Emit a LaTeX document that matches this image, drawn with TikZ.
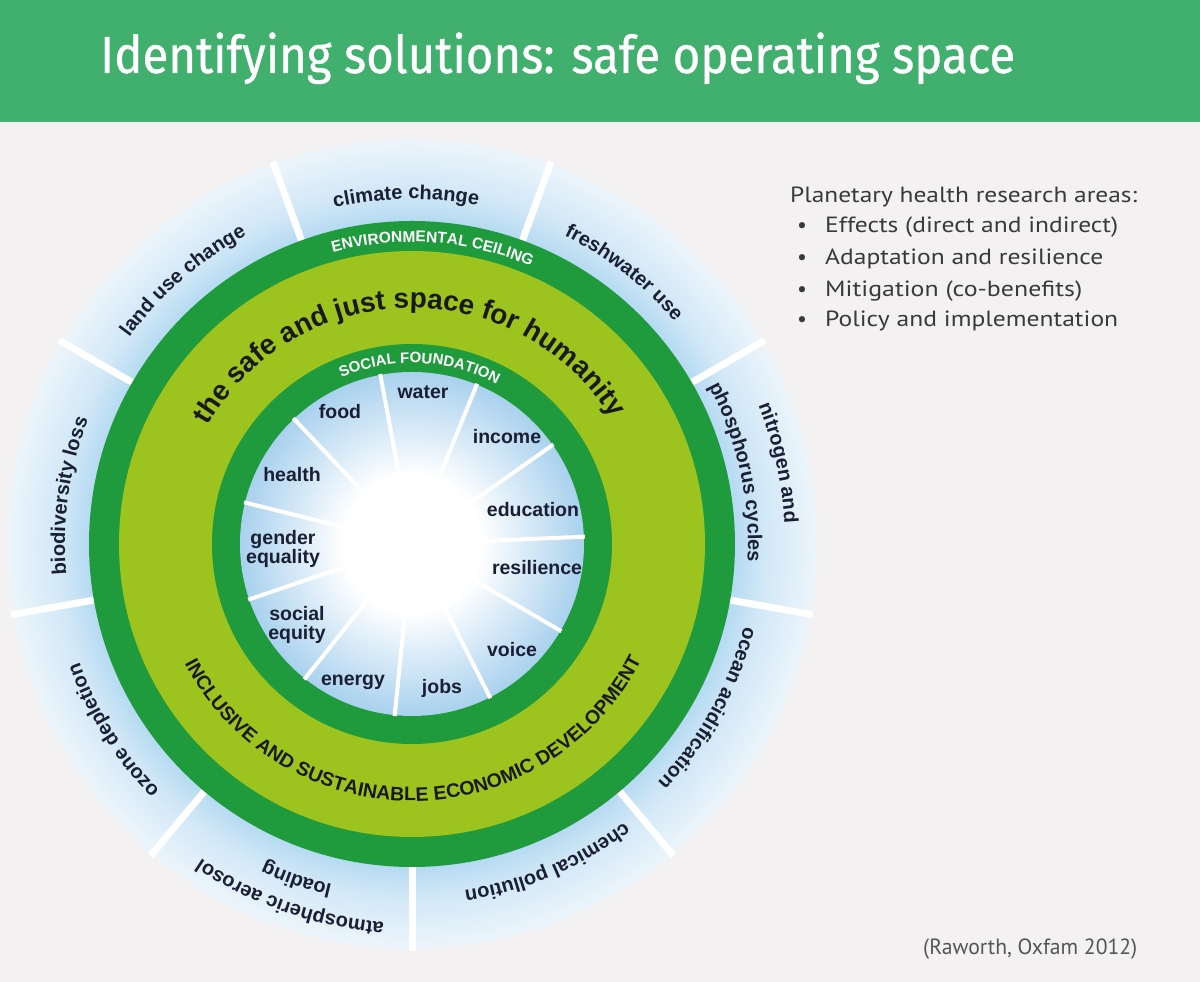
\documentclass[tikz,border=0pt]{standalone}
\usepackage{fontspec}
\usepackage{graphicx}
\usetikzlibrary{decorations.text}
\newfontfamily\labfont{Liberation Sans}
\newfontfamily\titlefont{Fira Sans}[FakeBold=0.7]
\newfontfamily\sidefont{PT Sans}
\definecolor{bgc}{HTML}{F3F1F2}
\definecolor{titlegreen}{HTML}{41AF6D}
\definecolor{darkgreen}{HTML}{1F9A3D}
\definecolor{lightgreen}{HTML}{9DC31F}
\definecolor{segblue}{HTML}{B5DAF2}
\definecolor{segmid}{HTML}{D2E8F7}
\definecolor{segpale}{HTML}{EDF5FB}
\definecolor{innerblue}{HTML}{A9D1EE}
\definecolor{navy}{HTML}{1A1F33}
\definecolor{sidegray}{HTML}{3A3A3A}
\definecolor{srcgray}{HTML}{555555}
\pgfdeclareradialshading{segshade}{\pgfpointorigin}{color(0bp)=(segblue); color(19.9bp)=(segblue); color(21.8bp)=(segmid); color(25bp)=(segpale); color(50bp)=(segpale)}
\pgfdeclareradialshading{innershade}{\pgfpointorigin}{color(0bp)=(white); color(10bp)=(white); color(25bp)=(innerblue); color(50bp)=(innerblue)}
% clockwise arc text: center angle, radius, half span, format, text
\newcommand\cwtext[5]{\path[decorate, decoration={text along path, text align=center, text={|#4|#5}}] ({#1+#3}:#2) arc[start angle={#1+#3}, end angle={#1-#3}, radius=#2];}
\newcommand\ccwtext[5]{\path[decorate, decoration={text along path, text align=center, text={|#4|#5}}] ({#1-#3}:#2) arc[start angle={#1-#3}, end angle={#1+#3}, radius=#2];}
\newcommand\outf{\labfont\bfseries\fontsize{20}{20}\selectfont\color{navy}}
\begin{document}
\begin{tikzpicture}[x=1pt,y=1pt,
  side/.style={inner sep=0, text=sidegray, font=\sidefont\fontsize{22}{22}\selectfont},
  inlab/.style={inner sep=0, text=navy, align=center, font=\labfont\bfseries\fontsize{19.5}{19}\selectfont},
  gapline/.style={white, line width=7pt},
  spoke/.style={white, line width=4pt}]
\useasboundingbox (0,0) rectangle (1200,982);
\fill[bgc] (0,0) rectangle (1200,982);
\fill[titlegreen] (0,860) rectangle (1200,982);
\node[anchor=base west, text=white, inner sep=0] (title) at (100,909)
  {\resizebox{915pt}{\height}{\titlefont\fontsize{52}{52}\selectfont Identifying solutions: safe operating space}};
% side panel
\node[side, anchor=base west] (head) at (790,779) {\resizebox{347pt}{\height}{Planetary health research areas:}};
\node[side, anchor=base] (b1) at (802,749) {•};
\node[side, anchor=base west] (i1) at (825,749) {\resizebox{293pt}{\height}{Effects (direct and indirect)}};
\node[side, anchor=base] (b2) at (802,717) {•};
\node[side, anchor=base west] (i2) at (825,717) {\resizebox{278pt}{\height}{Adaptation and resilience}};
\node[side, anchor=base] (b3) at (802,685) {•};
\node[side, anchor=base west] (i3) at (825,685) {\resizebox{257pt}{\height}{Mitigation (co-benefits)}};
\node[side, anchor=base] (b4) at (802,655) {•};
\node[side, anchor=base west] (i4) at (825,655) {\resizebox{293pt}{\height}{Policy and implementation}};
\node[side, anchor=base west, text=srcgray] (src) at (923,27) {\resizebox{214pt}{\height}{(Raworth, Oxfam 2012)}};
% doughnut
\begin{scope}[shift={(412,438)}]
  \shade[shading=segshade] (0,0) circle[radius=405];
  \foreach \a in {70,30,-10,-50,-90,-130,-170,150,110}
    \draw[gapline] (\a:318) -- (\a:407);
  \fill[darkgreen] (0,0) circle[radius=323];
  \fill[lightgreen] (0,0) circle[radius=293];
  \fill[darkgreen] (0,0) circle[radius=200];
  \shade[shading=innershade] (0,0) circle[radius=172];
  \foreach \k in {0,...,10}
    \draw[spoke] ({100.6-\k*32.727}:60) -- ({100.6-\k*32.727}:173);
  % outer labels
  \cwtext{91}{345}{40}{\outf}{climate change}
  \cwtext{52}{344}{40}{\outf}{freshwater use}
  \cwtext{12.5}{373}{40}{\outf}{nitrogen and}
  \cwtext{12.5}{336}{40}{\outf}{phosphorus cycles}
  \cwtext{-29}{342}{40}{\outf}{ocean acidification}
  \cwtext{-67}{350}{40}{\outf}{chemical pollution}
  \cwtext{-109}{379}{40}{\outf}{atmospheric aerosol}
  \cwtext{-109}{350}{40}{\outf}{loading}
  \cwtext{-148}{353}{40}{\outf}{ozone depletion}
  \cwtext{172}{347}{40}{\outf}{biodiversity loss}
  \cwtext{131}{350}{40}{\outf}{land use change}
  % ring texts
  \cwtext{86}{302}{50}{\labfont\bfseries\fontsize{15.5}{15.5}\selectfont\color{white}}{ENVIRONMENTAL CEILING}
  \cwtext{87.5}{181}{60}{\labfont\bfseries\fontsize{15}{15}\selectfont\color{white}}{SOCIAL FOUNDATION}
  \cwtext{91}{236}{80}{\labfont\bfseries\fontsize{28}{28}\selectfont\color{black!90}}{the safe and just space for humanity}
  \ccwtext{-89.5}{257}{75}{\labfont\bfseries\fontsize{19.5}{19.5}\selectfont\color{black!90}}{INCLUSIVE AND SUSTAINABLE ECONOMIC DEVELOPMENT}
  % inner labels
  \node[inlab] (water) at (11,152) {water};
  \node[inlab] (food) at (-72,132) {food};
  \node[inlab] (income) at (95,107) {income};
  \node[inlab] (health) at (-120,69) {health};
  \node[inlab] (education) at (121,34) {education};
  \node[inlab] (gender) at (-129,-5) {gender\\equality};
  \node[inlab] (resilience) at (125,-24) {resilience};
  \node[inlab] (social) at (-115,-81) {social\\equity};
  \node[inlab] (voice) at (100,-106) {voice};
  \node[inlab] (energy) at (-59,-138) {energy};
  \node[inlab] (jobs) at (30,-144) {jobs};
\end{scope}
\end{tikzpicture}
\end{document}
